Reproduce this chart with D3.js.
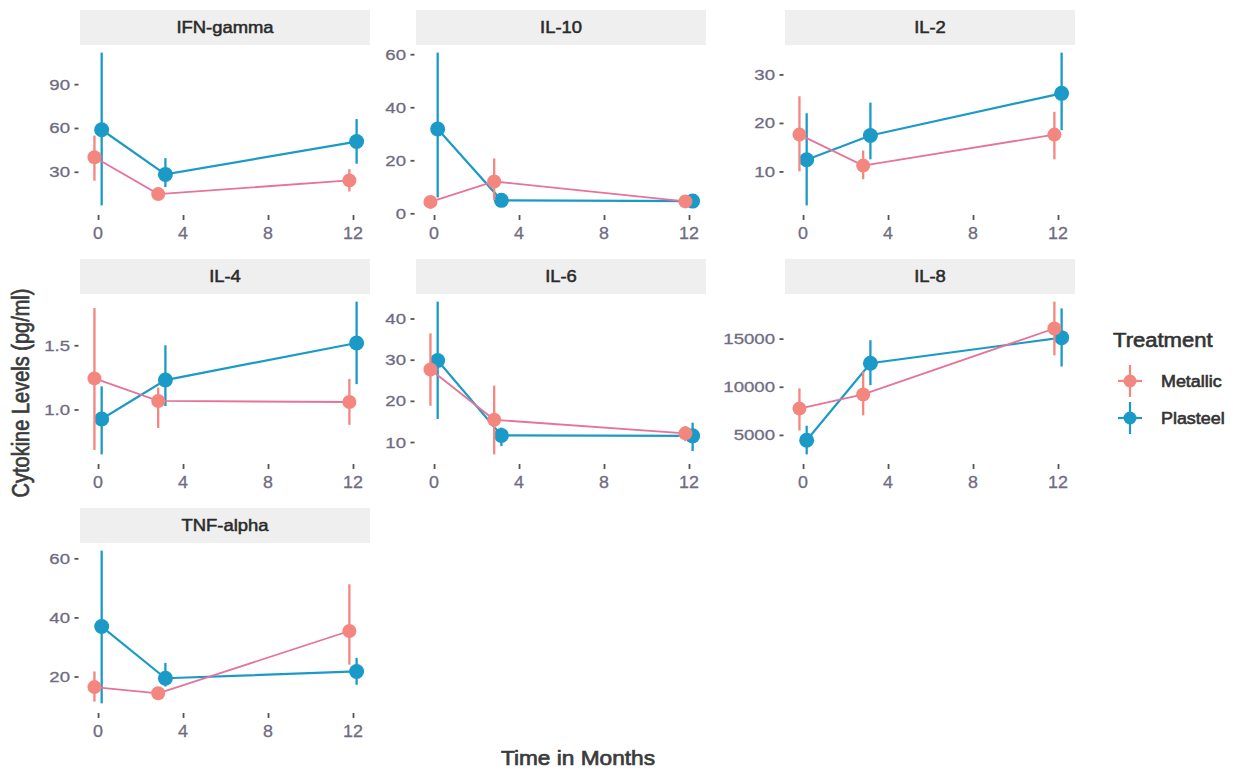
<!DOCTYPE html>
<html><head><meta charset="utf-8">
<script src="https://cdn.jsdelivr.net/npm/d3@7"></script>
<style>body{margin:0;background:#fff}svg{display:block}</style>
</head><body><svg id="c" width="1242" height="770"></svg>
<script>
// ---------- data ----------
const cytokines = ["IFN-gamma","IL-10","IL-2","IL-4","IL-6","IL-8","TNF-alpha"];
const months = [0, 3, 12];
const treatments = ["Metallic", "Plasteel"];
const xTicks = [0, 4, 8, 12];
const yTicks = [[30,60,90],[0,20,40,60],[10,20,30],[1.0,1.5],[10,20,30,40],[5000,10000,15000],[20,40,60]];

const metallicMean = [[40,14.7,24.1],[4.3,12,4.5],[17.6,11.2,17.6],[1.242,1.066,1.058],[27.6,15.4,12.1],[7730,9200,16050],[16.4,14.3,35.4]];
const metallicLow  = [[23.9,12,16.5],[3,5,3.3],[10,8.4,12.5],[0.684,0.855,0.88],[18.8,7,10.2],[5460,7030,13260],[11.5,13,24]];
const metallicHigh = [[54.8,17.5,31.8],[5.6,20.7,5.7],[25.5,14.3,22.3],[1.79,1.17,1.237],[36.4,23.7,13.9],[9830,11570,18840],[21.7,15.5,51.2]];

const plasteelMean = [[58.8,28.2,50.7],[31.8,4.9,4.6],[12.4,17.4,26.1],[0.926,1.229,1.518],[29.8,11.6,11.5],[4440,12440,15100],[36.9,19.4,21.7]];
const plasteelLow  = [[7,19.5,35.5],[6,3.5,3],[3,12.5,18.5],[0.65,1.026,1.197],[15.6,9,7.8],[2980,10170,12100],[10.9,16.6,17.2]];
const plasteelHigh = [[111.6,39.3,66.1],[60.6,6.5,6.2],[22,24.2,34.5],[1.18,1.5,1.84],[44.1,13.5,14.7],[5950,14830,18140],[62.6,24.6,26.3]];

// ---------- styling ----------
const pointColor = {Metallic:"#F3877F", Plasteel:"#1C9AC7"};
const lineColor  = {Metallic:"#E5739A", Plasteel:"#1C9AC7"};
const FONT = "'Liberation Sans', Arial, Helvetica, sans-serif";
const SX = 1.15;             // horizontal stretch seen in reference
const colX = [80, 416, 785];
const rowY = [10, 259, 508];
const stripH = 35, panelW = 290, panelH = 168;
const dodge = 0.17;

const svg = d3.select("#c");

function txt(g, x, y, s, o) {
  o = o || {};
  return g.append("text")
    .attr("transform", `translate(${x},${y}) scale(${o.sx || SX},1)`)
    .attr("text-anchor", o.anchor || "start")
    .attr("font-family", FONT)
    .attr("font-size", o.size || 15)
    .attr("font-weight", o.weight || "normal")
    .attr("fill", o.fill || "#333")
    .attr("stroke", o.stroke || "none")
    .attr("stroke-width", o.sw || 0)
    .text(s);
}

const series = {
  Metallic: {mean: metallicMean, low: metallicLow, high: metallicHigh, off: -dodge},
  Plasteel: {mean: plasteelMean, low: plasteelLow, high: plasteelHigh, off: dodge}
};

cytokines.forEach((name, i) => {
  const col = i % 3, row = Math.floor(i / 3);
  const px = colX[col], sy = rowY[row];
  const py = sy + stripH;
  const g = svg.append("g");

  // strip
  g.append("rect").attr("x", px).attr("y", sy).attr("width", panelW).attr("height", stripH)
    .attr("fill", "#EFEFEF");
  txt(g, px + panelW/2, sy + 23, name, {anchor:"middle", size:16, fill:"#2a2a2a", stroke:"#2a2a2a", sw:0.5});

  const x = d3.scaleLinear().domain([-0.85, 12.8]).range([px, px + panelW]);
  const allLow = d3.min([...metallicLow[i], ...plasteelLow[i]]);
  const allHigh = d3.max([...metallicHigh[i], ...plasteelHigh[i]]);
  const pad = (allHigh - allLow) * 0.05;
  const y = d3.scaleLinear().domain([allLow - pad, allHigh + pad]).range([py + panelH, py]);

  // x axis
  const xa = g.append("g").attr("transform", `translate(0,${py + panelH})`)
    .call(d3.axisBottom(x).tickValues(xTicks).tickSize(5).tickPadding(3).tickFormat(d3.format("d")));
  xa.select(".domain").remove();
  xa.selectAll(".tick line").attr("stroke", "#555").attr("stroke-width", 1.8).attr("y1", 2).attr("y2", 7);
  xa.selectAll(".tick text").remove();
  xTicks.forEach(t => txt(g, x(t), py + panelH + 26, String(t), {anchor:"middle", size:17, sx:1.05, fill:"#6f6c82", stroke:"#6f6c82", sw:0.3}));

  // y axis
  const fmt = name === "IL-4" ? d3.format(".1f") : d3.format("d");
  const ya = g.append("g").attr("transform", `translate(${px},0)`)
    .call(d3.axisLeft(y).tickValues(yTicks[i]).tickSize(4).tickFormat(fmt));
  ya.select(".domain").remove();
  ya.selectAll(".tick line").attr("stroke", "#555").attr("stroke-width", 1.8).attr("x1", -5.5).attr("x2", -1.5);
  ya.selectAll(".tick text").remove();
  yTicks[i].forEach(t => txt(g, px - 10, y(t) + 5.5, fmt(t), {anchor:"end", size:15.5, sx:1.2, fill:"#6f6c82", stroke:"#6f6c82", sw:0.3}));

  // draw Plasteel first, Metallic on top
  ["Plasteel", "Metallic"].forEach(tr => {
    const s = series[tr];
    const pts = months.map((m, k) => ({x: x(m + s.off), m: s.mean[i][k], lo: s.low[i][k], hi: s.high[i][k]}));
    const line = d3.line().x(d => d.x).y(d => y(d.m));
    g.append("path").datum(pts).attr("d", line).attr("fill", "none")
      .attr("stroke", lineColor[tr]).attr("stroke-width", tr === "Plasteel" ? 2.2 : 1.8);
    g.selectAll(null).data(pts).enter().append("line")
      .attr("x1", d => d.x).attr("x2", d => d.x).attr("y1", d => y(d.lo)).attr("y2", d => y(d.hi))
      .attr("stroke", pointColor[tr]).attr("stroke-width", 2.3);
    g.selectAll(null).data(pts).enter().append("circle")
      .attr("cx", d => d.x).attr("cy", d => y(d.m)).attr("r", tr === "Plasteel" ? 7.5 : 7)
      .attr("fill", pointColor[tr]);
  });
});

// axis titles
txt(svg, 578, 765, "Time in Months", {anchor:"middle", size:21, sx:1.08, fill:"#3b3b3b", stroke:"#3b3b3b", sw:0.7});
svg.append("text")
  .attr("transform", "translate(29,393) rotate(-90) scale(1,1.15)")
  .attr("text-anchor", "middle").attr("font-family", FONT).attr("font-size", 20)
  .attr("fill", "#3b3b3b").attr("stroke", "#3b3b3b").attr("stroke-width", 0.6)
  .text("Cytokine Levels (pg/ml)");

// legend
const lg = svg.append("g");
txt(lg, 1113, 347, "Treatment", {size:19.5, sx:1.13, fill:"#333", stroke:"#333", sw:0.6});
treatments.forEach((tr, k) => {
  const cx = 1130, cy = 381 + k * 37;
  lg.append("line").attr("x1", cx - 12).attr("x2", cx + 12).attr("y1", cy).attr("y2", cy)
    .attr("stroke", pointColor[tr]).attr("stroke-width", 2.2);
  lg.append("line").attr("x1", cx).attr("x2", cx).attr("y1", cy - 16).attr("y2", cy + 16)
    .attr("stroke", pointColor[tr]).attr("stroke-width", 2.2);
  lg.append("circle").attr("cx", cx).attr("cy", cy).attr("r", 6.5).attr("fill", pointColor[tr]);
  txt(lg, 1161, cy + 6, tr, {size:16, sx:1.12, fill:"#333", stroke:"#333", sw:0.6});
});
</script>
</body></html>
